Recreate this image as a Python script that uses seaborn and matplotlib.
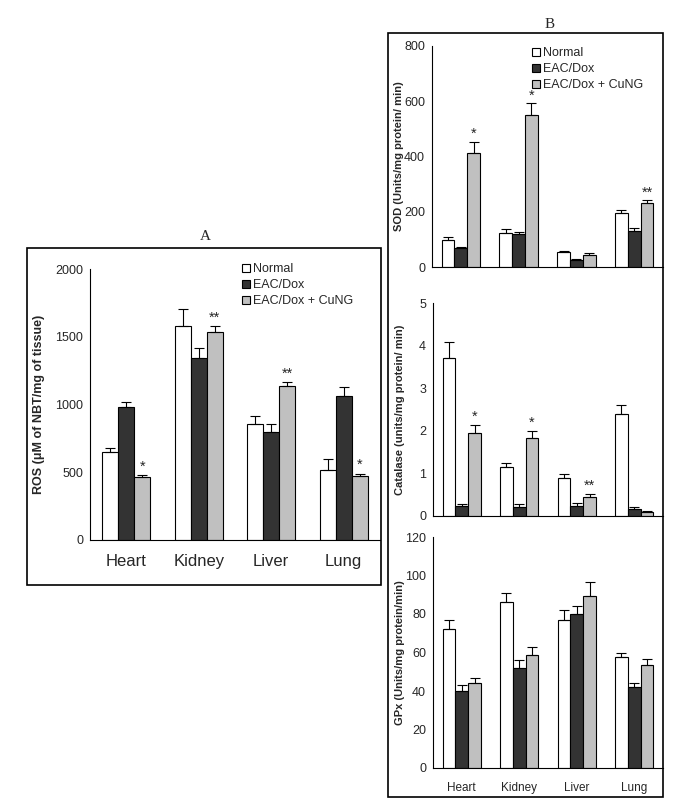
import numpy as np
import pandas as pd
import matplotlib
matplotlib.use('Agg')
import matplotlib.pyplot as plt
import seaborn as sns
from matplotlib.patches import Rectangle, Patch

# Datos
organs = ['Heart', 'Kidney', 'Liver', 'Lung']
groups = ['Normal', 'EAC/Dox', 'EAC/Dox + CuNG']
colors = ['#ffffff', '#333333', '#c0c0c0']

ros = [[650, 980, 465], [1580, 1340, 1535], [855, 795, 1140], [520, 1065, 475]]
ros_err = [[30, 42, 15], [125, 75, 45], [62, 60, 25], [75, 65, 15]]
ros_stars = [['', '', '*'], ['', '', '**'], ['', '', '**'], ['', '', '*']]

sod = [[97, 68, 412], [122, 118, 552], [56, 26, 42], [194, 130, 230]]
sod_err = [[10, 3, 42], [14, 7, 40], [3, 3, 7], [14, 10, 11]]
sod_stars = [['', '', '*'], ['', '', '*'], ['', '', ''], ['', '', '**']]

cat = [[3.7, 0.24, 1.95], [1.15, 0.2, 1.84], [0.9, 0.24, 0.45], [2.4, 0.17, 0.1]]
cat_err = [[0.38, 0.03, 0.18], [0.1, 0.07, 0.16], [0.09, 0.07, 0.07], [0.21, 0.05, 0.02]]
cat_stars = [['', '', '*'], ['', '', '*'], ['', '', '**'], ['', '', '']]

gpx = [[72.4, 40, 44], [86, 52, 58.5], [77, 80, 89.5], [57.5, 42, 53.5]]
gpx_err = [[4.3, 3, 2.6], [5, 4, 4.5], [5, 4, 7], [2.4, 2.4, 3.3]]
gpx_stars = [['', '', ''], ['', '', ''], ['', '', ''], ['', '', '']]

W, H = 674, 806


def to_df(vals, errs, stars):
    rows = []
    for i, o in enumerate(organs):
        for j, g in enumerate(groups):
            rows.append({'organ': o, 'group': g, 'value': vals[i][j],
                         'err': errs[i][j], 'star': stars[i][j]})
    return pd.DataFrame(rows)


def ax_px(fig, left, right, top, bottom):
    return fig.add_axes([left / W, 1 - bottom / H, (right - left) / W, (bottom - top) / H])


def draw_panel(ax, df, ymax, yticks, ylabel, label_x, xlabels, xfont, ylfont):
    sns.barplot(data=df, x='organ', y='value', hue='group', order=organs,
                hue_order=groups, palette=colors, edgecolor='black',
                linewidth=0.8, width=0.667, errorbar=None, legend=False, ax=ax)
    # barras ordenadas por posicion: organo, luego grupo
    bars = sorted(ax.patches, key=lambda p: p.get_x())
    xs = np.array([p.get_x() + p.get_width() / 2 for p in bars])
    ys = np.array([p.get_height() for p in bars])
    err = df['err'].to_numpy()
    ax.errorbar(xs, ys, yerr=[np.zeros_like(err), err], fmt='none',
                ecolor='black', elinewidth=0.8, capsize=3.5, capthick=0.8, zorder=5)
    for x, y, e, s in zip(xs, ys, err, df['star']):
        if s:
            ax.text(x, y + e + ymax * 0.005, s, ha='center', va='bottom', fontsize=10.5)
    ax.set_xlim(-0.5, 3.5)
    ax.set_ylim(0, ymax)
    ax.set_yticks(yticks)
    ax.set_xticks([0.5, 1.5, 2.5, 3.5], labels=[])
    ax.set_xticks([0, 1, 2, 3], minor=True)
    if xlabels:
        ax.set_xticklabels(organs, minor=True, fontsize=xfont)
    else:
        ax.set_xticklabels([], minor=True)
    ax.tick_params(axis='x', which='minor', length=0, pad=10)
    ax.tick_params(axis='x', which='major', length=4, width=0.8, direction='out')
    ax.tick_params(axis='y', length=4, width=0.8, direction='out', labelsize=9, pad=1)
    ax.set_xlabel('')
    ax.set_ylabel(ylabel, fontsize=ylfont, fontweight='bold')
    ax.yaxis.set_label_coords(label_x, 0.5)
    for sp in ['top', 'right']:
        ax.spines[sp].set_visible(False)
    for sp in ['left', 'bottom']:
        ax.spines[sp].set_linewidth(0.8)
        ax.spines[sp].set_color('black')
    ax.set_facecolor('none')


sns.set_style('white')
plt.rcParams['font.family'] = ['Liberation Sans', 'DejaVu Sans']

fig = plt.figure(figsize=(W / 100, H / 100), dpi=100)

# Marcos de cada panel
fig.patches.append(Rectangle((27 / W, 1 - 585 / H), (381 - 27) / W, (585 - 248) / H,
                             transform=fig.transFigure, fill=False, lw=1.2, ec='black'))
fig.patches.append(Rectangle((388 / W, 1 - 797 / H), (663 - 388) / W, (797 - 33) / H,
                             transform=fig.transFigure, fill=False, lw=1.2, ec='black'))
fig.text(205 / W, 1 - 237 / H, 'A', ha='center', va='center', fontsize=11,
         family='Liberation Serif')
fig.text(550 / W, 1 - 24 / H, 'B', ha='center', va='center', fontsize=11,
         family='Liberation Serif')

axA = ax_px(fig, 90, 380, 269, 540)
draw_panel(axA, to_df(ros, ros_err, ros_stars), 2000, [0, 500, 1000, 1500, 2000],
           'ROS (\u03bcM of NBT/mg of tissue)', -0.155, True, 12, 9)

axS = ax_px(fig, 432, 663, 46, 267)
draw_panel(axS, to_df(sod, sod_err, sod_stars), 800, [0, 200, 400, 600, 800],
           'SOD (Units/mg protein/ min)', -0.12, False, 8.5, 8)

axC = ax_px(fig, 433, 663, 303, 516)
draw_panel(axC, to_df(cat, cat_err, cat_stars), 5, [0, 1, 2, 3, 4, 5],
           'Catalase (units/mg protein/ min)', -0.12, False, 8.5, 8)

axG = ax_px(fig, 433, 663, 537, 768)
draw_panel(axG, to_df(gpx, gpx_err, gpx_stars), 120, [0, 20, 40, 60, 80, 100, 120],
           'GPx (Units/mg protein/min)', -0.12, True, 8.5, 8)

handles = [Patch(facecolor=c, edgecolor='black', linewidth=0.8) for c in colors]
for ax, (lx, ly) in [(axA, (242, 263)), (axS, (532, 47))]:
    ax.legend(handles, groups, loc='upper left', bbox_to_anchor=(lx / W, 1 - ly / H),
              bbox_transform=fig.transFigure, frameon=False, fontsize=9,
              handlelength=0.6, handleheight=0.6, handletextpad=0.3,
              labelspacing=0.32, borderpad=0, borderaxespad=0)

fig.savefig('out.png', dpi=100)
